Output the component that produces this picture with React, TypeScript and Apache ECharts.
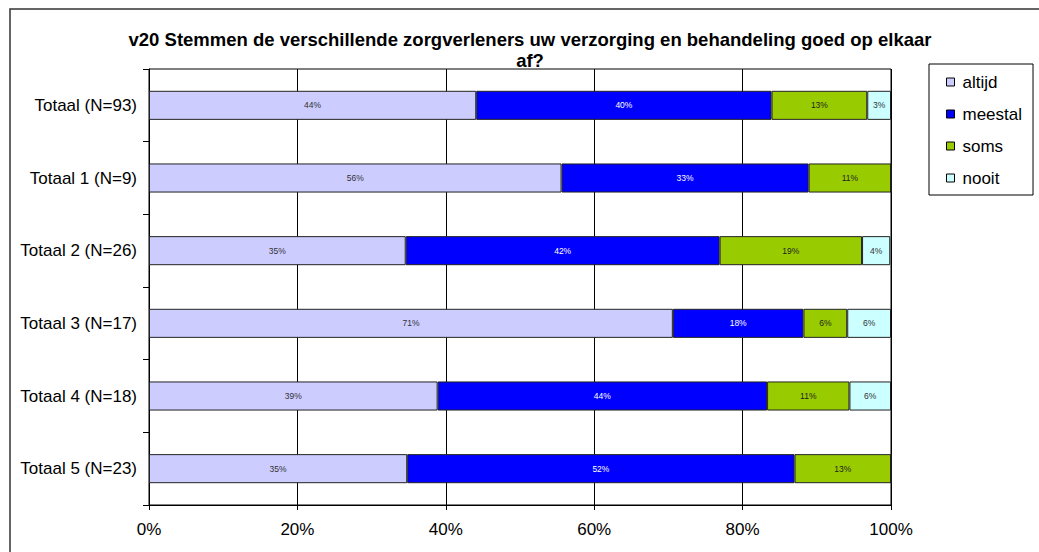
import React, { useEffect, useRef } from "react";
import * as echarts from "echarts";

const categories = [
  "Totaal (N=93)",
  "Totaal 1 (N=9)",
  "Totaal 2 (N=26)",
  "Totaal 3 (N=17)",
  "Totaal 4 (N=18)",
  "Totaal 5 (N=23)",
];
const altijd = [44.1, 55.6, 34.6, 70.6, 38.9, 34.8];
const meestal = [39.8, 33.3, 42.3, 17.6, 44.4, 52.2];
const soms = [12.9, 11.1, 19.2, 5.9, 11.1, 13.0];
const nooit = [3.2, 0, 3.8, 5.9, 5.6, 0];
const xTicks = [0, 20, 40, 60, 80, 100];

const seriesDefs = [
  { name: "altijd", data: altijd, color: "#CCCCFF", label: "#333333" },
  { name: "meestal", data: meestal, color: "#0000FF", label: "#FFFFFF" },
  { name: "soms", data: soms, color: "#99CC00", label: "#222222" },
  { name: "nooit", data: nooit, color: "#CCFFFF", label: "#333333" },
];

const FONT = "Arial, 'Liberation Sans', sans-serif";

export default function App() {
  const ref = useRef<HTMLDivElement>(null);
  useEffect(() => {
    document.body.style.margin = "0";
    const chart = echarts.init(ref.current!, null, { renderer: "svg" });
    chart.setOption({
      animation: false,
      backgroundColor: "#FFFFFF",
      title: {
        text: "v20 Stemmen de verschillende zorgverleners uw verzorging en behandeling goed op elkaar\naf?",
        left: 525,
        top: 24,
        textAlign: "center",
        textStyle: {
          fontFamily: FONT,
          fontSize: 18.5,
          fontWeight: "bold",
          color: "#000",
          lineHeight: 21,
        },
      },
      legend: {
        orient: "vertical",
        left: 929,
        top: 64,
        padding: [9, 11, 8, 17],
        itemGap: 14,
        itemWidth: 8,
        itemHeight: 8,
        icon: "rect",
        borderColor: "#000",
        borderWidth: 1,
        textStyle: { fontFamily: FONT, fontSize: 17, color: "#000", lineHeight: 18, padding: [0, 0, 0, 3] },
        data: seriesDefs.map((s) => ({
          name: s.name,
          itemStyle: { color: s.color, borderColor: "#000", borderWidth: 1 },
        })),
      },
      grid: {
        left: 149,
        right: 148,
        top: 69,
        bottom: 47,
        show: true,
        borderColor: "#000",
        borderWidth: 1,
      },
      xAxis: {
        type: "value",
        min: 0,
        max: 100,
        interval: 20,
        axisLine: { show: true, lineStyle: { color: "#000" } },
        axisTick: { show: true, length: 5, lineStyle: { color: "#000" } },
        splitLine: { show: true, lineStyle: { color: "#000", width: 1 } },
        axisLabel: {
          fontFamily: FONT,
          fontSize: 17,
          color: "#000",
          margin: 16,
          formatter: (v: number) => (xTicks.includes(v) ? v + "%" : ""),
        },
      },
      yAxis: {
        type: "category",
        inverse: true,
        data: categories,
        axisLine: { show: true, lineStyle: { color: "#000" } },
        axisTick: { show: true, length: 6, lineStyle: { color: "#000" } },
        axisLabel: { fontFamily: FONT, fontSize: 17, color: "#000", margin: 12 },
      },
      series: seriesDefs.map((s) => ({
        name: s.name,
        type: "bar",
        stack: "total",
        barWidth: "40%",
        data: s.data,
        itemStyle: { color: s.color, borderColor: "#222", borderWidth: 1 },
        label: {
          show: true,
          position: "inside",
          fontFamily: FONT,
          fontSize: 8.5,
          color: s.label,
          formatter: (p: any) => (p.value > 0 ? Math.round(p.value) + "%" : ""),
        },
      })),
      graphic: [
        {
          type: "rect",
          shape: { x: 10, y: 9, width: 1040, height: 560 },
          style: { fill: "none", stroke: "#333", lineWidth: 1.5 },
          silent: true,
          z: 100,
        },
      ],
    });
    return () => chart.dispose();
  }, []);
  return <div ref={ref} style={{ width: 1039, height: 552 }} />;
}
